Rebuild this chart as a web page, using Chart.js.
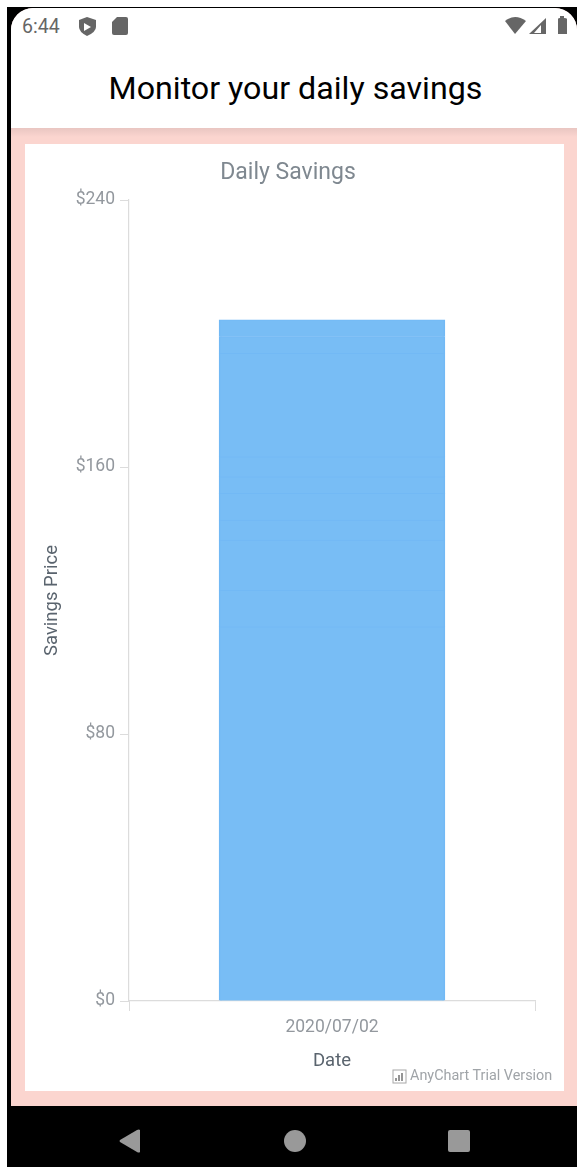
<!DOCTYPE html>
<html>
<head>
<meta charset="utf-8">
<script src="https://cdn.jsdelivr.net/npm/chart.js@4"></script>
<style>
html,body{margin:0;padding:0;background:#fff;width:577px;height:1167px;overflow:hidden;font-family:Roboto,sans-serif}
#frame{position:absolute;left:7px;top:7px;width:570px;height:1160px;background:#000}
#screen{position:absolute;left:11px;top:8px;width:566px;height:1098px;background:#fbd5cf;border-radius:22px 22px 0 0;overflow:hidden}
#header{position:absolute;left:0;top:0;width:566px;height:120px;background:#fff}
#shadow{position:absolute;left:0;top:120px;width:566px;height:9px;background:linear-gradient(#e9c6c2,#fbd5cf)}
#time{position:absolute;left:22px;top:17px;font-size:19.5px;line-height:20px;color:#666}
#heading{position:absolute;left:0;top:68px;width:577px;padding-left:14px;box-sizing:border-box;text-align:center;font-size:32.2px;line-height:40px;color:#000}
#card{position:absolute;left:25px;top:144px;width:539px;height:947px;background:#fff}
#card canvas{position:absolute;left:0;top:0}
#credit{position:absolute;left:410px;top:1067px;font-size:14.4px;line-height:17px;color:#a0a4a8;white-space:nowrap}
svg{position:absolute;left:0;top:0}
</style>
</head>
<body>
<div id="frame"></div>
<div id="screen"><div id="header"></div><div id="shadow"></div></div>
<div id="time">6:44</div>
<div id="heading">Monitor your daily savings</div>
<div id="card"><canvas id="c" width="539" height="947"></canvas></div>
<div id="credit">AnyChart Trial Version</div>
<svg width="577" height="1167" viewBox="0 0 577 1167">
  <path d="M79 20 L87 17 L96 20 L96 27 Q96 32 87 36 Q79 32 79 27 Z" fill="#666"/>
  <path d="M84 23 L91 27 L84 31 Z" fill="#fff"/>
  <path d="M117 17 H126 Q128 17 128 19 V33 Q128 35 126 35 H114 Q112 35 112 33 V22 Z" fill="#666"/>
  <path d="M505 21 Q515 13 526 21 L515 34 Z" fill="#666"/>
  <path d="M546 18 V34 H529 Z" fill="#666"/>
  <path d="M541 25 V33 H534 Z" fill="#fff"/>
  <path d="M558 19 Q558 18 560 18 V16 H564 V18 Q567 18 567 19 V34 H558 Z" fill="#666"/>
  <rect x="393" y="1070" width="13" height="13" fill="none" stroke="#a8a8a8" stroke-width="1"/>
  <path d="M396 1081 V1078 M399 1081 V1075 M402 1081 V1073" stroke="#8a8a8a" stroke-width="1.8"/>
  <path d="M140 1130 V1152 Q139 1153 137 1152 L120 1142 Q119 1141 120 1140 L137 1130 Q139 1129 140 1130 Z" fill="#999"/>
  <circle cx="295" cy="1141" r="11" fill="#999"/>
  <rect x="448" y="1130" width="22" height="22" rx="2" fill="#999"/>
</svg>
<script>
const categories = ['2020/07/02'];
const savingsEntries = [112, 11, 15, 6, 8, 5, 6, 31, 5, 5];
const yTickStep = 80;
const yMax = 240;
const titleText = 'Daily Savings';
const xTitle = 'Date';
const yTitle = 'Savings Price';

const datasets = savingsEntries.map(function (v, i) {
  return {
    label: 'Entry ' + (i + 1),
    data: [v],
    backgroundColor: '#78bdf5',
    borderColor: '#72b9f5',
    borderWidth: { top: 1, left: 1.5, right: 1.5, bottom: 0 },
    borderSkipped: false,
    inflateAmount: 0.6,
    barPercentage: 0.555,
    categoryPercentage: 1,
    stack: 'savings'
  };
});

new Chart(document.getElementById('c'), {
  type: 'bar',
  data: { labels: categories, datasets: datasets },
  options: {
    responsive: false,
    animation: false,
    devicePixelRatio: 1,
    layout: { padding: { left: 16, right: 29, top: 0, bottom: 0 } },
    plugins: {
      legend: { display: false },
      tooltip: { enabled: false },
      title: {
        display: true,
        text: titleText,
        color: '#7f8890',
        font: { family: 'Roboto', size: 23, weight: 'normal', lineHeight: 1.2 },
        padding: { top: 15, bottom: 13.4 }
      }
    },
    scales: {
      x: {
        stacked: true,
        offset: true,
        afterFit: function (s) { s.height = 90; },
        grid: { display: true, offset: true, drawOnChartArea: false, drawTicks: true, tickLength: 10, color: '#dcdcdc', lineWidth: 1 },
        border: { display: true, color: '#dcdcdc', width: 1.2 },
        ticks: { color: '#93989e', font: { family: 'Roboto', size: 17.5 }, padding: 6, maxRotation: 0 },
        title: { display: true, text: xTitle, color: '#5a646e', font: { family: 'Roboto', size: 18.5 }, padding: { top: 0, bottom: 19 } }
      },
      y: {
        stacked: true,
        min: 0,
        max: yMax,
        afterFit: function (s) { s.width = 88; },
        grid: { display: true, drawOnChartArea: false, drawTicks: true, tickLength: 9, color: '#dcdcdc', lineWidth: 1 },
        border: { display: true, color: '#dcdcdc', width: 1.2 },
        ticks: { stepSize: yTickStep, color: '#93989e', font: { family: 'Roboto', size: 17.5 }, padding: 5, callback: function (v) { return '$' + v; } },
        title: { display: true, text: yTitle, color: '#5a646e', font: { family: 'Roboto', size: 18.5 }, padding: { top: 0, bottom: 0 } }
      }
    }
  }
});
</script>
</body>
</html>
